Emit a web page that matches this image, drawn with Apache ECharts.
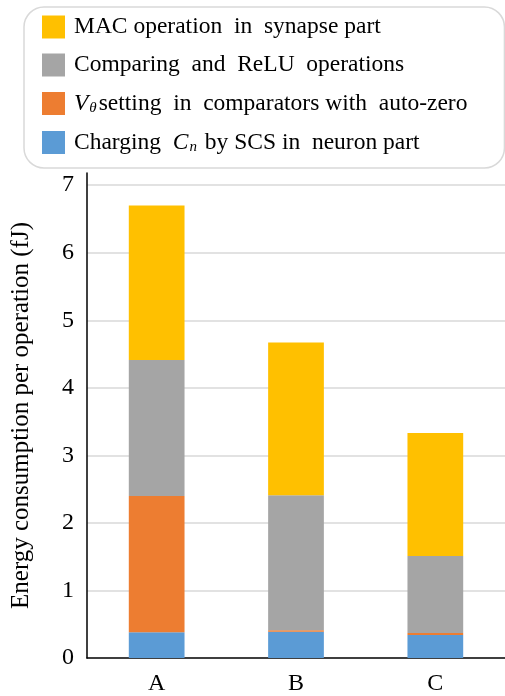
<!DOCTYPE html>
<html>
<head>
<meta charset="utf-8">
<script src="https://cdn.jsdelivr.net/npm/echarts@6/dist/echarts.min.js"></script>
<style>html,body{margin:0;padding:0;background:#fff;}#c{width:505px;height:696px;}</style>
</head>
<body>
<div id="c"></div>
<script>
var categories = ['A', 'B', 'C'];
var seriesNames = [
  'Charging Cn by SCS in neuron part',
  'Vθ setting in comparators with auto-zero',
  'Comparing and ReLU operations',
  'MAC operation in synapse part'
];
var chargingCn = [0.38, 0.39, 0.34];
var vthetaSetting = [2.02, 0.02, 0.03];
var comparingReLU = [2.01, 2.00, 1.14];
var macSynapse = [2.29, 2.26, 1.82];
var legendOrder = [seriesNames[3], seriesNames[2], seriesNames[1], seriesNames[0]];
var yTicks = [0, 1, 2, 3, 4, 5, 6, 7];

var colors = ['#5B9BD5', '#ED7D31', '#A5A5A5', '#FFC000'];
var FONT = "'Liberation Serif', 'Times New Roman', serif";
var seriesData = [chargingCn, vthetaSetting, comparingReLU, macSynapse];

var chart = echarts.init(document.getElementById('c'), null, {renderer: 'canvas'});
var LF = 23.5;
var rich = {
  t: {fontFamily: FONT, fontSize: LF, color: '#000', lineHeight: 23},
  i: {fontFamily: FONT, fontSize: LF, color: '#000', fontStyle: 'italic', lineHeight: 23},
  sub: {fontFamily: FONT, fontSize: 15, color: '#000', fontStyle: 'italic', padding: [10, 2, 0, 1], lineHeight: 12}
};
chart.setOption({
  animation: false,
  backgroundColor: '#fff',
  color: colors,
  legend: {
    orient: 'vertical',
    left: 24,
    top: 7,
    data: legendOrder,
    itemWidth: 23,
    itemHeight: 23,
    itemGap: 14,
    icon: 'rect',
    borderColor: '#d9d9d9',
    borderWidth: 1.5,
    borderRadius: 20,
    padding: [8, 37, 13, 18],
    selectedMode: false,
    textStyle: {fontFamily: FONT, fontSize: LF, color: '#000', padding: [0, 0, 0, 4], rich: rich},
    formatter: function (name) {
      if (name === seriesNames[1]) return '{i|V}{sub|θ}{t|setting  in  comparators with  auto-zero}';
      if (name === seriesNames[0]) return '{t|Charging  }{i|C}{sub|n}{t| by SCS in  neuron part}';
      if (name === seriesNames[3]) return '{t|MAC operation  in  synapse part}';
      return '{t|Comparing  and  ReLU  operations}';
    }
  },
  grid: {left: 87, right: -2, top: 173, bottom: 34, containLabel: false},
  xAxis: {
    type: 'category',
    data: categories,
    axisLine: {lineStyle: {color: '#000', width: 1.5}},
    axisTick: {show: false},
    axisLabel: {fontFamily: FONT, fontSize: 24, color: '#000', margin: 14}
  },
  yAxis: {
    type: 'value',
    min: 0,
    max: 7.18,
    interval: 1,
    name: 'Energy consumption per operation (fJ)',
    nameLocation: 'middle',
    nameRotate: 90,
    nameGap: 53,
    nameTextStyle: {fontFamily: FONT, fontSize: 25, color: '#000'},
    axisLine: {show: true, lineStyle: {color: '#000', width: 1.5}},
    axisTick: {show: false},
    axisLabel: {fontFamily: FONT, fontSize: 24, color: '#000', margin: 13, showMaxLabel: false,
      formatter: function (v) { return yTicks.indexOf(v) >= 0 ? String(v) : ''; }},
    splitLine: {show: true, showMinLine: false, showMaxLine: false, lineStyle: {color: '#d9d9d9', width: 1.5}}
  },
  series: seriesNames.map(function (n, k) {
    return {
      name: n,
      type: 'bar',
      stack: 'total',
      barWidth: '40%',
      data: seriesData[k],
      itemStyle: {color: colors[k]}
    };
  })
});
</script>
</body>
</html>
